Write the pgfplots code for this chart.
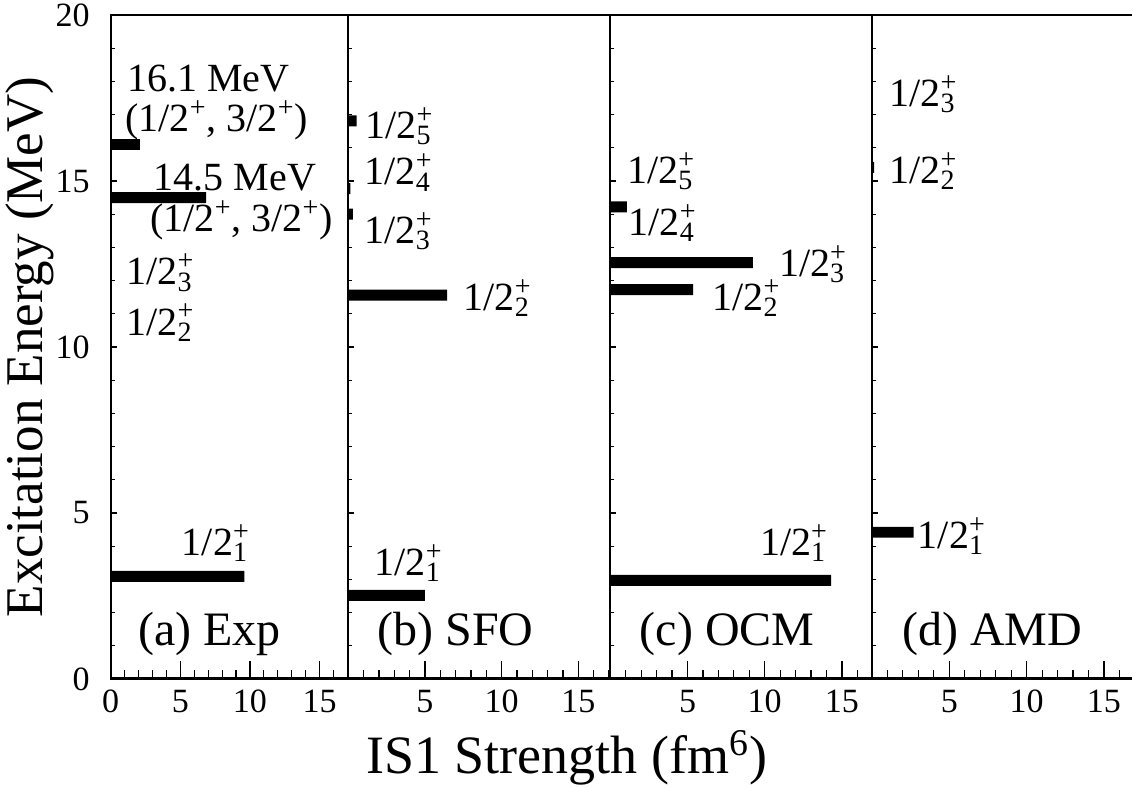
\documentclass[border=0pt]{standalone}
\usepackage{fontspec}
\setmainfont{Liberation Serif}
\usepackage{pgfplots}
\pgfplotsset{compat=1.18}
\usepackage{pgfplotstable}

\newcommand{\lev}[1]{1/2\rlap{\textsuperscript{+}}\textsubscript{#1}}

\pgfplotstableread{
s e
9.6 3.09
6.85 14.5
2.1 16.1
}\expdata
\pgfplotstableread{
s e
5.0 2.52
6.45 11.56
0.3 14.0
0.13 14.77
0.55 16.81
}\sfodata
\pgfplotstableread{
s e
14.3 2.97
5.37 11.73
9.24 12.54
1.08 14.22
}\ocmdata
\pgfplotstableread{
s e
2.7 4.42
0.15 15.41
}\amddata

\pgfplotsset{
  panel/.style={
    scale only axis,
    height=332pt,
    ymin=0, ymax=20,
    xmin=0,
    ytick={0,5,10,15,20},
    minor xtick={0,1,...,17},
    tick align=inside,
    xtick pos=bottom, ytick pos=left,
    major tick length=9pt,
    minor tick length=4.5pt,
    major y tick style={draw=none},
    axis line style={line width=1.1pt},
    tick style={line width=0.6pt, black},
    tick label style={font=\fontsize{17}{17}\selectfont},
    xticklabel style={yshift=-2pt},
    yticklabel style={xshift=2pt},
    /pgf/number format/assume math mode=true,
    anchor=south west,
    clip=false,
    xbar, bar width=0.33,
  },
}
\tikzset{
  lab/.style={font=\fontsize{20}{20}\selectfont, anchor=base west, inner sep=0pt},
  plab/.style={font=\fontsize{24}{24}\selectfont, anchor=base, inner sep=0pt},
}
\newcommand{\yticksmanual}{%
  \pgfplotsinvokeforeach{1,2,3,4,6,7,8,9,11,12,13,14,16,17,18,19}{%
    \draw[line width=0.6pt] (axis cs:0,##1) -- ++(2pt,0);}%
  \pgfplotsinvokeforeach{5,10,15}{%
    \draw[line width=0.6pt] (axis cs:0,##1) -- ++(3pt,0);}%
  \draw[line width=1.5pt] (rel axis cs:0,0) -- (rel axis cs:1,0);%
}

\begin{document}
\begin{tikzpicture}
\useasboundingbox (-55.35pt,-54.5pt) rectangle (510.65pt,339.5pt);

% (a) Exp
\begin{axis}[panel, at={(0pt,0pt)}, width=118.8pt, xmax=17.06,
  xtick={0,5,10,15},
  ylabel={Excitation Energy (MeV)},
  ylabel style={font=\fontsize{26.5}{26.5}\selectfont, at={(axis description cs:-0.34,0.5)}, anchor=center}]
\addplot[fill=black, draw=none] table[x=s, y=e] {\expdata};
\yticksmanual
\node[lab] at (axis cs:1.15,17.69) {16.1 MeV};
\node[lab] at (axis cs:1.03,16.49) {(1/2\textsuperscript{+}, 3/2\textsuperscript{+})};
\node[lab] at (axis cs:3.06,14.70) {14.5 MeV};
\node[lab] at (axis cs:2.82,13.47) {(1/2\textsuperscript{+}, 3/2\textsuperscript{+})};
\node[lab] at (axis cs:1.1,11.87) {\lev{3}};
\node[lab] at (axis cs:1.1,10.36) {\lev{2}};
\node[lab] at (axis cs:5.09,3.73) {\lev{1}};
\node[plab] at (axis cs:7.1,1.02) {(a) Exp};
\end{axis}

% (b) SFO
\begin{axis}[panel, at={(118.8pt,0pt)}, width=131.0pt, xmax=17.09,
  xtick={5,10,15}, yticklabels={}]
\addplot[fill=black, draw=none] table[x=s, y=e] {\sfodata};
\yticksmanual
\node[lab] at (axis cs:1.1,16.28) {\lev{5}};
\node[lab] at (axis cs:1.05,14.88) {\lev{4}};
\node[lab] at (axis cs:1.05,13.12) {\lev{3}};
\node[lab] at (axis cs:7.5,11.11) {\lev{2}};
\node[lab] at (axis cs:1.7,3.13) {\lev{1}};
\node[plab] at (axis cs:7.0,1.02) {(b) SFO};
\end{axis}

% (c) OCM
\begin{axis}[panel, at={(249.8pt,0pt)}, width=130.8pt, xmax=16.94,
  xtick={5,10,15}, yticklabels={}]
\addplot[fill=black, draw=none] table[x=s, y=e] {\ocmdata};
\yticksmanual
\node[lab] at (axis cs:1.08,14.93) {\lev{5}};
\node[lab] at (axis cs:1.17,13.37) {\lev{4}};
\node[lab] at (axis cs:10.9,12.12) {\lev{3}};
\node[lab] at (axis cs:6.59,11.11) {\lev{2}};
\node[lab] at (axis cs:9.67,3.73) {\lev{1}};
\node[plab] at (axis cs:7.57,1.02) {(c) OCM};
\end{axis}

% (d) AMD
\begin{axis}[panel, at={(380.6pt,0pt)}, width=130.05pt, xmax=16.81,
  xtick={5,10,15}, yticklabels={},
  separate axis lines,
  y axis line style={draw=none}]
\addplot[fill=black, draw=none] table[x=s, y=e] {\amddata};
\draw[line width=1.1pt] (rel axis cs:0,0) -- (rel axis cs:0,1);
\yticksmanual
\node[lab] at (axis cs:1.12,17.24) {\lev{3}};
\node[lab] at (axis cs:1.12,14.93) {\lev{2}};
\node[lab] at (axis cs:2.95,3.93) {\lev{1}};
\node[plab] at (axis cs:7.78,1.02) {(d) AMD};
\end{axis}

\node[font=\fontsize{27}{27}\selectfont, anchor=base] at (228pt,-47.5pt) {IS1 Strength (fm\textsuperscript{6})};
\end{tikzpicture}
\end{document}
